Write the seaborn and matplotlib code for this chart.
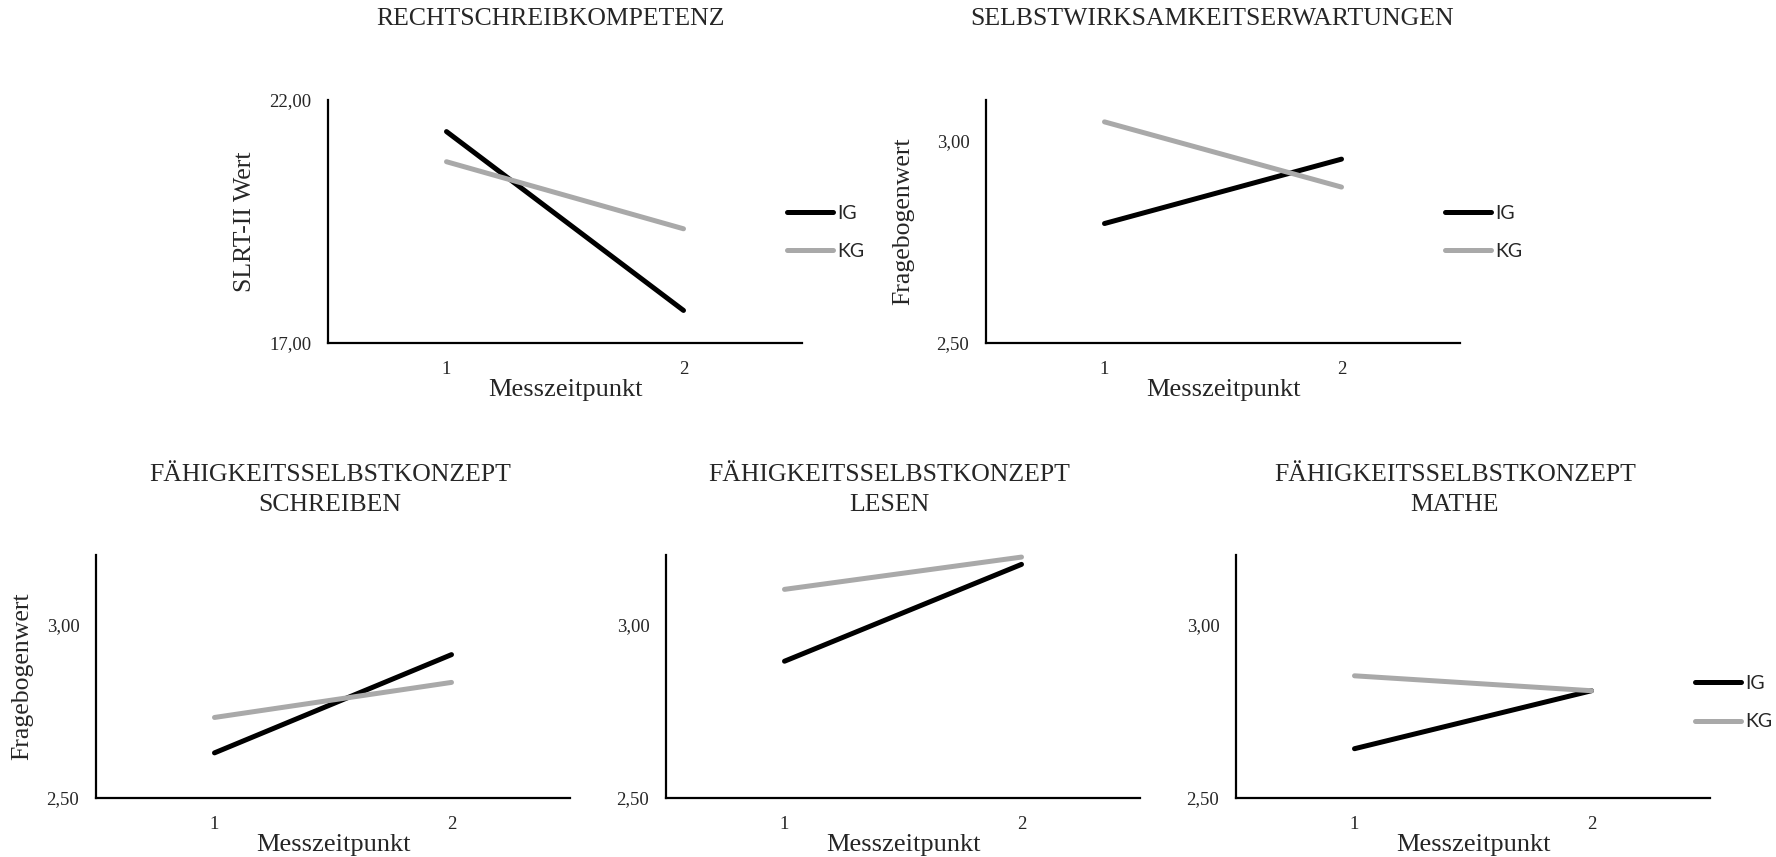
import matplotlib
matplotlib.use("Agg")
import matplotlib.pyplot as plt
import seaborn as sns
import pandas as pd

# Messzeitpunkte und Gruppen
zeitpunkte = [1, 2]
gruppen = ["IG", "KG"]

# Mittelwerte je Skala (IG, KG) zu Messzeitpunkt 1 und 2
rechtschreib_ig = [21.35, 17.67]
rechtschreib_kg = [20.73, 19.35]
selbstwirk_ig = [2.795, 2.954]
selbstwirk_kg = [3.046, 2.885]
fsk_schreiben_ig = [2.63, 2.913]
fsk_schreiben_kg = [2.732, 2.833]
fsk_lesen_ig = [2.894, 3.173]
fsk_lesen_kg = [3.101, 3.194]
fsk_mathe_ig = [2.642, 2.809]
fsk_mathe_kg = [2.852, 2.809]

titel = [
    "RECHTSCHREIBKOMPETENZ",
    "SELBSTWIRKSAMKEITSERWARTUNGEN",
    "FÄHIGKEITSSELBSTKONZEPT\nSCHREIBEN",
    "FÄHIGKEITSSELBSTKONZEPT\nLESEN",
    "FÄHIGKEITSSELBSTKONZEPT\nMATHE",
]
y_labels = ["SLRT-II Wert", "Fragebogenwert", "Fragebogenwert", None, None]
y_ticks_slrt = [17.0, 22.0]
y_ticks_frage = [2.5, 3.0]

farben = {"IG": "#000000", "KG": "#A9A9A9"}
serif = "Liberation Serif"


def make_df(ig, kg):
    rows = []
    for g, werte in zip(gruppen, [ig, kg]):
        for t, w in zip(zeitpunkte, werte):
            rows.append({"Messzeitpunkt": t, "Wert": w, "Gruppe": g})
    return pd.DataFrame(rows)


panels = [
    dict(df=make_df(rechtschreib_ig, rechtschreib_kg), ylim=(17, 22), yticks=y_ticks_slrt,
         rect=[328, 100], legend=0.455, ylab_x=-0.152),
    dict(df=make_df(selbstwirk_ig, selbstwirk_kg), ylim=(2.5, 3.1), yticks=y_ticks_frage,
         rect=[986, 100], legend=0.455, ylab_x=-0.152),
    dict(df=make_df(fsk_schreiben_ig, fsk_schreiben_kg), ylim=(2.5, 3.2), yticks=y_ticks_frage,
         rect=[96, 555], legend=None, ylab_x=-0.132),
    dict(df=make_df(fsk_lesen_ig, fsk_lesen_kg), ylim=(2.5, 3.2), yticks=y_ticks_frage,
         rect=[666, 555], legend=None, ylab_x=None),
    dict(df=make_df(fsk_mathe_ig, fsk_mathe_kg), ylim=(2.5, 3.2), yticks=y_ticks_frage,
         rect=[1236, 555], legend=0.392, ylab_x=None),
]

title_pos = [(551, 19), (1212, 19), (330, 490), (889, 490), (1455, 490)]

sns.set_style("white")
plt.rcParams["font.family"] = [serif, "DejaVu Serif"]

W, H = 1776, 857
fig = plt.figure(figsize=(W / 100, H / 100), dpi=100)

aw, ah = 474, 243
for i, p in enumerate(panels):
    left, top = p["rect"]
    ax = fig.add_axes([left / W, 1 - (top + ah) / H, aw / W, ah / H])
    sns.lineplot(data=p["df"], x="Messzeitpunkt", y="Wert", hue="Gruppe",
                 palette=farben, linewidth=3.6, ax=ax, legend=p["legend"] is not None,
                 solid_capstyle="round", clip_on=False)
    ax.set_xlim(0.5, 2.5)
    ax.set_ylim(*p["ylim"])
    ax.set_xticks(zeitpunkte)
    ax.set_xticklabels([str(z) for z in zeitpunkte], fontsize=13.5)
    ax.set_yticks(p["yticks"])
    ax.set_yticklabels([f"{v:.2f}".replace(".", ",") for v in p["yticks"]], fontsize=13.5)
    ax.tick_params(axis="both", length=0, pad=12)
    ax.tick_params(axis="x", pad=13)
    ax.set_xlabel("Messzeitpunkt", fontsize=19, labelpad=1)
    if y_labels[i]:
        ax.set_ylabel(y_labels[i], fontsize=18.5)
        ax.yaxis.set_label_coords(p["ylab_x"], 0.5)
    else:
        ax.set_ylabel("")
    sns.despine(ax=ax)
    for s in ["left", "bottom"]:
        ax.spines[s].set_color("black")
        ax.spines[s].set_linewidth(1.6)

    if p["legend"] is not None:
        sns.move_legend(ax, "center left", bbox_to_anchor=(0.968, p["legend"]),
                        frameon=False, title=None, borderpad=0, borderaxespad=0,
                        handlelength=2.4, handletextpad=0.2, labelspacing=1.1,
                        prop={"family": "Lato", "size": 14})
        leg = ax.get_legend()
        for h in leg.legend_handles:
            h.set_linewidth(3.6)
            h.set_solid_capstyle("round")

    tx, ty = title_pos[i]
    fig.text(tx / W, 1 - ty / H, titel[i], ha="center", va="center", fontsize=18.5,
             family=serif, linespacing=1.45)

fig.savefig("out.png", dpi=100)
